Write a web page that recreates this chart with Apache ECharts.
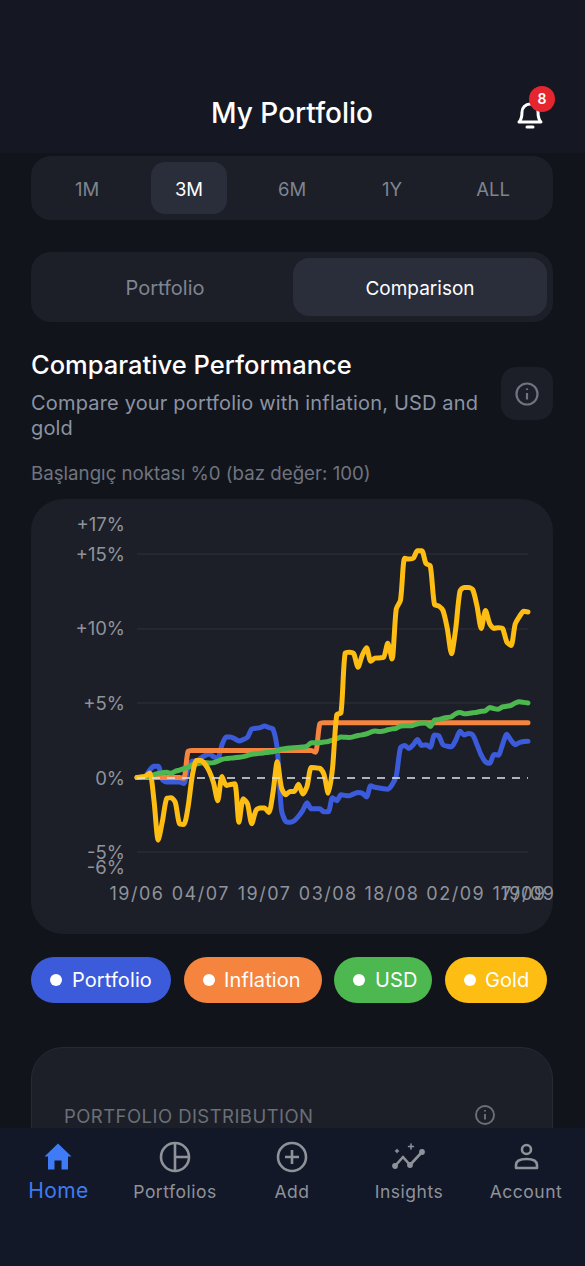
<!DOCTYPE html>
<html>
<head>
<meta charset="utf-8">
<script src="https://cdn.jsdelivr.net/npm/echarts@6/dist/echarts.min.js"></script>
<style>
  html, body { margin: 0; padding: 0; background: #12141b; }
  body { width: 585px; height: 1266px; position: relative; overflow: hidden; font-family: Inter, "Noto Sans", sans-serif; }
  .box, .txt, svg { position: absolute; }
  .txt { white-space: nowrap; line-height: 1; transform: translate(-50%, -50%); }
  .left { transform: translate(0, -50%); }
  .pill { position: absolute; top: 957px; height: 46px; border-radius: 23px; }
  .pill i { position: absolute; top: 17px; width: 12px; height: 12px; border-radius: 50%; background: #fff; }
  .pill span { position: absolute; top: 23px; transform: translateY(-50%); font-size: 20px; color: #fff; line-height: 1; letter-spacing: .1px; }
  #main { position: absolute; left: 0; top: 499px; width: 585px; height: 440px; }
  /* date labels are spaced wider than the value labels */
  #main text[text-anchor="middle"] { letter-spacing: 1.5px; }
</style>
</head>
<body>
  <div class="box" style="left:0;top:0;width:585px;height:153px;background:#151822"></div>
  <div class="txt" style="left:292px;top:113px;font-size:28px;font-weight:500;color:#fff">My Portfolio</div>
  <svg style="left:516px;top:100px" width="28" height="30" viewBox="0 0 28 30" fill="none" stroke="#fff" stroke-width="3" stroke-linejoin="round">
    <path d="M3 22c3-3 3-6 3-10a8 8 0 0 1 16 0c0 4 0 7 3 10z"/><path d="M11 27h6" stroke-linecap="round"/>
  </svg>
  <div class="box" style="left:529px;top:86px;width:26px;height:26px;border-radius:50%;background:#e5262f"></div>
  <div class="txt" style="left:542px;top:99px;font-size:14px;font-weight:600;color:#fff">8</div>

  <div class="box" style="left:31px;top:156px;width:522px;height:64px;border-radius:20px;background:#1c1f27"></div>
  <div class="box" style="left:151px;top:162px;width:76px;height:52px;border-radius:14px;background:#2a2e3b"></div>
  <div class="txt" style="left:87px;top:189px;font-size:18.5px;color:#7f8490">1M</div>
  <div class="txt" style="left:189px;top:189px;font-size:18.5px;color:#fff">3M</div>
  <div class="txt" style="left:292px;top:189px;font-size:18.5px;color:#7f8490">6M</div>
  <div class="txt" style="left:392px;top:189px;font-size:18.5px;color:#7f8490">1Y</div>
  <div class="txt" style="left:493px;top:189px;font-size:18.5px;color:#7f8490">ALL</div>

  <div class="box" style="left:31px;top:252px;width:522px;height:70px;border-radius:20px;background:#1c1f27"></div>
  <div class="box" style="left:293px;top:258px;width:254px;height:58px;border-radius:16px;background:#2a2e3b"></div>
  <div class="txt" style="left:165px;top:288px;font-size:20px;color:#7f8490">Portfolio</div>
  <div class="txt" style="left:420px;top:288px;font-size:19px;color:#fff">Comparison</div>

  <div class="txt left" style="left:31px;top:365px;font-size:25.5px;font-weight:500;color:#fff">Comparative Performance</div>
  <div class="txt left" style="left:31px;top:403px;font-size:20px;letter-spacing:.17px;color:#8b93a3">Compare your portfolio with inflation, USD and</div>
  <div class="txt left" style="left:31px;top:428px;font-size:20px;letter-spacing:.17px;color:#8b93a3">gold</div>
  <div class="txt left" style="left:31px;top:474px;font-size:18.7px;color:#6f7480">Başlangıç noktası %0 (baz değer: 100)</div>
  <div class="box" style="left:501px;top:367px;width:52px;height:53px;border-radius:15px;background:#1c1f27"></div>
  <svg style="left:514px;top:381px" width="26" height="26" viewBox="0 0 26 26" fill="none" stroke="#6f7480" stroke-width="2.2">
    <circle cx="13" cy="13" r="10.5"/><path d="M13 12v6.5M13 7.5v1.6"/>
  </svg>

  <div class="box" style="left:31px;top:499px;width:522px;height:435px;border-radius:32px;background:#1c1f27"></div>
  <div id="main"></div>

  <div class="pill" style="left:31px;width:140px;background:#3b5bdb"><i style="left:19px"></i><span style="left:41px">Portfolio</span></div>
  <div class="pill" style="left:184px;width:138px;background:#f5843e"><i style="left:19px"></i><span style="left:40px">Inflation</span></div>
  <div class="pill" style="left:334px;width:98px;background:#4cb84f"><i style="left:19px"></i><span style="left:41px">USD</span></div>
  <div class="pill" style="left:445px;width:102px;background:#fdbd12"><i style="left:19px"></i><span style="left:40px">Gold</span></div>

  <div class="box" style="left:31px;top:1047px;width:520px;height:120px;border-radius:32px;border:1px solid #272a32;background:#1c1f27"></div>
  <div class="txt left" style="left:64px;top:1116px;font-size:18.5px;letter-spacing:.45px;color:#6b6f78">PORTFOLIO DISTRIBUTION</div>
  <svg style="left:474px;top:1104px" width="22" height="22" viewBox="0 0 22 22" fill="none" stroke="#6b6f78" stroke-width="1.9">
    <circle cx="11" cy="11" r="9"/><path d="M11 10v5.5M11 6v1.5"/>
  </svg>

  <div class="box" style="left:0;top:1128px;width:585px;height:138px;background:#121827"></div>
  <svg style="left:44px;top:1143px" width="28" height="27" viewBox="0 0 28 27" fill="#3f7bf5">
    <path d="M14 0.5L27.5 13.5h-3.500v13h-6.500v-9h-7v9h-6.500v-13h-3.500z"/>
  </svg>
  <svg style="left:159px;top:1140px" width="32" height="34" viewBox="0 0 32 34" fill="none" stroke="#8f9299" stroke-width="2.6">
    <circle cx="16" cy="17" r="14"/><path d="M16 3v28M16 17h14"/>
  </svg>
  <svg style="left:276px;top:1140px" width="32" height="34" viewBox="0 0 32 34" fill="none" stroke="#8f9299" stroke-width="2.6">
    <circle cx="16" cy="17" r="14"/><path d="M16 10v14M9 17h14"/>
  </svg>
  <svg style="left:392px;top:1143px" width="34" height="28" viewBox="0 0 34 28" fill="none" stroke="#8f9299" stroke-width="2.6" stroke-linecap="round" stroke-linejoin="round">
    <path d="M3 23l8-9 7 8 12-13"/>
    <circle cx="3" cy="23" r="1.600" fill="#8f9299"/><circle cx="18" cy="22" r="1.600" fill="#8f9299"/><circle cx="30" cy="9" r="1.600" fill="#8f9299"/>
    <path d="M5 6.500v3M3.500 8h3M19 1v5M16.500 3.500h5" stroke-width="1.500"/>
  </svg>
  <svg style="left:514px;top:1143px" width="25" height="27" viewBox="0 0 25 27" fill="none" stroke="#8f9299" stroke-width="2.6" stroke-linejoin="round">
    <circle cx="12.500" cy="6.500" r="4.500"/><path d="M2 25v-3c0-4 4-6 10.500-6S23 18 23 22v3z"/>
  </svg>
  <div class="txt" style="left:58.500px;top:1190px;font-size:21px;letter-spacing:.4px;color:#3f7bf5">Home</div>
  <div class="txt" style="left:175px;top:1192px;font-size:17.5px;letter-spacing:.5px;color:#8f9299">Portfolios</div>
  <div class="txt" style="left:292px;top:1192px;font-size:17.5px;letter-spacing:.5px;color:#8f9299">Add</div>
  <div class="txt" style="left:409px;top:1192px;font-size:17.5px;letter-spacing:.5px;color:#8f9299">Insights</div>
  <div class="txt" style="left:526px;top:1192px;font-size:17.5px;letter-spacing:.5px;color:#8f9299">Account</div>

  <script type="text/javascript">
    var dates = [
      '19/06','20/06','21/06','22/06','23/06','24/06','25/06','26/06','27/06','28/06','29/06','30/06',
      '01/07','02/07','03/07','04/07','05/07','06/07','07/07','08/07','09/07','10/07','11/07','12/07','13/07','14/07','15/07','16/07','17/07','18/07','19/07','20/07','21/07','22/07','23/07','24/07','25/07','26/07','27/07','28/07','29/07','30/07','31/07',
      '01/08','02/08','03/08','04/08','05/08','06/08','07/08','08/08','09/08','10/08','11/08','12/08','13/08','14/08','15/08','16/08','17/08','18/08','19/08','20/08','21/08','22/08','23/08','24/08','25/08','26/08','27/08','28/08','29/08','30/08','31/08',
      '01/09','02/09','03/09','04/09','05/09','06/09','07/09','08/09','09/09','10/09','11/09','12/09','13/09','14/09','15/09','16/09','17/09','18/09','19/09'
    ];
    var xTicks = ['19/06','04/07','19/07','03/08','18/08','02/09','17/09'];
    var xEndTicks = ['19/09'];
    var yTicks = [-5, 0, 5, 10, 15, 17];
    var yEndTicks = [-6];
    var gridValues = [-5, 5, 10, 15];

    var portfolio = [
      0,0,0.1,0.5,0.75,0.75,-0.15,-0.3,-0.3,-0.3,
      -0.3,-0.4,0.6,1.1,1.12,1.3,1.47,1.58,1.4,1.3,
      2.2,2.72,2.72,2.6,2.45,2.55,2.7,3.25,3.3,3.35,
      3.45,3.35,3.25,1.9,-2.2,-2.95,-3.0,-2.9,-2.6,-2.2,
      -1.7,-2.1,-2.1,-2.1,-2.3,-2.3,-1.35,-1.56,-1.16,-1.2,
      -1.22,-1.1,-1.0,-1.05,-1.3,-0.56,-0.65,-0.7,-0.75,-0.78,
      -0.5,0.1,2.0,2.14,1.95,2.2,2.55,2.14,2.2,2.03,
      2.85,2.8,2.2,2.1,2.07,2.5,3.1,2.85,2.95,2.85,
      2.2,1.5,1.05,0.95,1.55,1.5,2.2,2.9,2.5,2.2,
      2.35,2.42,2.43
    ];
    var inflation = [
      0,0,0,0,0,0,0,0,0,0,
      0,-0.05,1.75,1.82,1.82,1.82,1.82,1.82,1.82,1.82,
      1.82,1.82,1.82,1.82,1.82,1.82,1.82,1.82,1.82,1.82,
      1.82,1.82,1.82,1.82,1.82,1.82,1.82,1.82,1.82,1.82,
      1.82,1.82,1.7,3.6,3.68,3.68,3.68,3.68,3.68,3.68,
      3.68,3.68,3.68,3.68,3.68,3.68,3.68,3.68,3.68,3.68,
      3.68,3.68,3.68,3.68,3.68,3.68,3.68,3.68,3.68,3.68,
      3.68,3.68,3.68,3.68,3.68,3.68,3.68,3.68,3.68,3.68,
      3.68,3.68,3.68,3.68,3.68,3.68,3.68,3.68,3.68,3.68,
      3.68,3.68,3.68
    ];
    var usd = [
      0,0.02,0.05,0.1,0.2,0.28,0.32,0.36,0.28,0.42,
      0.5,0.6,0.68,0.85,0.92,0.98,1.0,0.98,1.0,1.1,
      1.22,1.27,1.3,1.33,1.36,1.4,1.48,1.56,1.6,1.62,
      1.66,1.7,1.72,1.8,1.9,1.95,1.98,2.0,2.02,2.04,
      2.1,2.34,2.34,2.34,2.38,2.42,2.5,2.6,2.72,2.7,
      2.68,2.74,2.82,2.86,2.92,3.05,3.12,3.08,3.12,3.2,
      3.26,3.3,3.45,3.47,3.47,3.5,3.6,3.66,3.66,3.42,
      3.85,3.88,3.97,4.02,4.08,4.28,4.36,4.28,4.3,4.34,
      4.38,4.44,4.48,4.7,4.62,4.58,4.74,4.78,4.84,5.0,
      5.08,5.04,5.0
    ];
    var gold = [
      0,0.04,0.09,0.3,-1.55,-4.2,-2.9,-1.4,-1.36,-1.65,
      -3.1,-3.15,-2.0,0.1,1.14,1.14,0.9,0.42,-0.35,-1.55,
      0.07,-0.53,-0.47,-0.42,-3.0,-1.42,-1.76,-3.1,-2.2,-2.05,
      -2.05,-2.34,-1.0,1.05,-0.7,-1.15,-0.93,-0.93,-0.45,-1.1,
      -0.6,0.67,0.65,0.62,0.2,-1.05,0.6,4.2,4.35,8.36,
      8.4,8.3,7.4,8.2,8.7,7.8,8,8.02,8.05,9.0,
      7.95,11.3,11.9,14.7,14.65,14.7,15.2,15.2,14.35,14.2,
      11.6,11.5,11.2,10,8.3,10,12.5,12.75,12.75,12.6,
      11.5,10,11.2,10.3,10,10.05,10,9.1,8.85,10.3,
      10.8,11.15,11.1
    ];

    function lineSeries(name, values, color) {
      return {
        name: name,
        type: 'line',
        data: values,
        smooth: 0.25,
        showSymbol: false,
        lineStyle: { color: color, width: 5, cap: 'round', join: 'round' },
        itemStyle: { color: color }
      };
    }

    // the library hides a label that collides with the first or last one,
    // the picture keeps both, so the end labels live on a second axis
    function dateAxis(ticks) {
      return {
        type: 'category',
        data: dates,
        boundaryGap: false,
        position: 'bottom',
        axisLine: { show: false },
        axisTick: { show: false },
        splitLine: { show: false },
        axisLabel: {
          color: '#8f939c',
          fontFamily: 'Inter',
          fontSize: 18,
          margin: 17,
          hideOverlap: false,
          interval: function (i, value) { return ticks.indexOf(value) >= 0; }
        }
      };
    }
    function valueAxis(ticks) {
      return {
        type: 'value',
        min: -6,
        max: 17,
        position: 'left',
        axisLine: { show: false },
        axisTick: { show: false },
        splitLine: { show: false },
        axisLabel: {
          color: '#8f939c',
          fontFamily: 'Inter',
          fontSize: 18.5,
          margin: 12,
          padding: [3, 0, 0, 0],
          hideOverlap: false,
          customValues: ticks,
          formatter: function (v) { return v > 0 ? '+' + v + '%' : v + '%'; }
        }
      };
    }

    var series = [
      lineSeries('Portfolio', portfolio, '#3b5bdb'),
      lineSeries('Inflation', inflation, '#f5843e'),
      lineSeries('USD', usd, '#4cb84f'),
      lineSeries('Gold', gold, '#fdbd12')
    ];
    // grid lines sit under everything, the dashed zero line on top
    series[0].markLine = {
      z: 1, silent: true, symbol: 'none', animation: false, label: { show: false },
      lineStyle: { color: '#2a2d35', width: 1.5, type: 'solid' },
      data: gridValues.map(function (v) { return { yAxis: v }; })
    };
    series[3].markLine = {
      silent: true, symbol: 'none', animation: false, label: { show: false },
      lineStyle: { color: 'rgba(225,228,235,0.75)', width: 2, type: [8, 7] },
      data: [{ yAxis: 0 }]
    };

    var myChart = echarts.init(document.getElementById('main'), null, { renderer: 'svg' });
    myChart.setOption({
      animation: false,
      grid: { left: 137, right: 57, top: 25, bottom: 72 },
      xAxis: [dateAxis(xTicks), dateAxis(xEndTicks)],
      yAxis: [valueAxis(yTicks), valueAxis(yEndTicks)],
      series: series
    });
  </script>
</body>
</html>
